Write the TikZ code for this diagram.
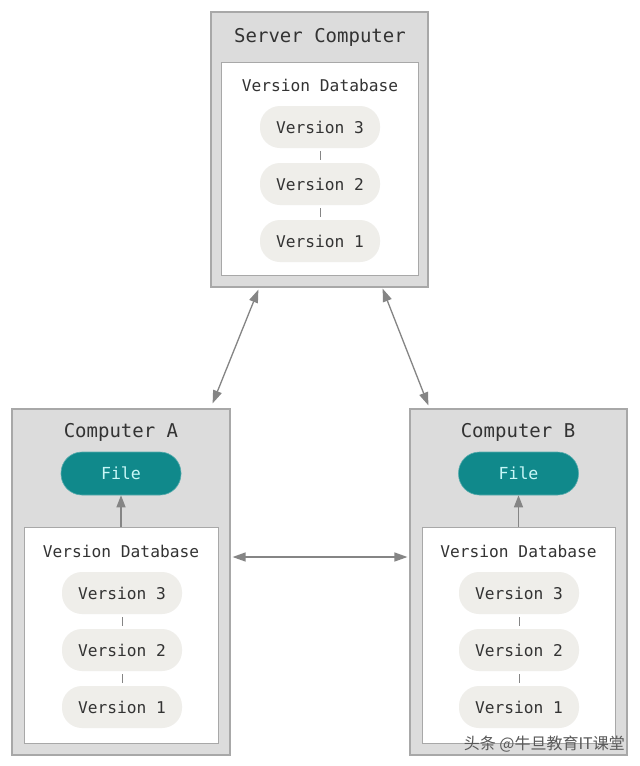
\documentclass[tikz,border=0pt]{standalone}
\usepackage{fontspec}
\setmonofont{DejaVu Sans Mono}
\newfontfamily\cjk{Noto Sans CJK SC}
\usetikzlibrary{arrows.meta}
\definecolor{boxgray}{HTML}{DCDCDC}
\definecolor{boxline}{HTML}{A8A8A8}
\definecolor{pillfill}{HTML}{EFEEEA}
\definecolor{txt}{HTML}{333333}
\definecolor{teal}{HTML}{10898B}
\definecolor{filetxt}{HTML}{C8F7F7}
\definecolor{arr}{HTML}{858585}
\tikzset{
  outerbox/.style={draw=boxline, line width=1.2pt, fill=boxgray, inner sep=0pt},
  dbbox/.style={draw=boxline, line width=1pt, fill=white, inner sep=0pt},
  titletxt/.style={font=\ttfamily\fontsize{19}{22}\selectfont, text=txt, inner sep=0pt},
  dbtxt/.style={font=\ttfamily\fontsize{16.2}{19}\selectfont, text=txt, inner sep=0pt},
  pill/.style={rounded corners=20pt, fill=pillfill, minimum width=120pt, minimum height=42pt, font=\ttfamily\fontsize{16.2}{19}\selectfont, text=txt, inner sep=0pt},
  filepill/.style={rounded corners=21pt, fill=teal, draw=teal!70!white, line width=0.6pt, minimum width=120pt, minimum height=43pt, font=\ttfamily\fontsize{16.6}{19}\selectfont, text=filetxt, inner sep=0pt},
  tick/.style={draw=arr, line width=0.9pt, shorten <=3pt, shorten >=3pt},
  dbl/.style={draw=arr, line width=1.3pt, {Triangle[length=13pt,width=9pt]}-{Triangle[length=13pt,width=9pt]}, fill=arr},
  sgl/.style={draw=arr, line width=1.3pt, -{Triangle[length=12pt,width=9pt]}, fill=arr},
}
\begin{document}
\begin{tikzpicture}[x=1pt,y=-1pt]
\useasboundingbox (0,0) rectangle (640,766);
\fill[white] (0,0) rectangle (640,766);

% Server
\node[outerbox, minimum width=217pt, minimum height=275pt] (srv) at (319.5,149.5) {};
\node[titletxt] (srvt) at (320,37) {Server Computer};
\node[dbbox, minimum width=197pt, minimum height=213pt] (sdb) at (319.5,168.5) {};
\node[dbtxt] (sdbt) at (320,85) {Version Database};
\node[pill] (s3) at (320,127) {Version 3};
\node[pill] (s2) at (320,184) {Version 2};
\node[pill] (s1) at (320,241) {Version 1};
\draw[tick] (s3.south) -- (s2.north);
\draw[tick] (s2.south) -- (s1.north);

% Computer A
\node[outerbox, minimum width=218pt, minimum height=346pt] (ca) at (121,582) {};
\node[titletxt] (cat) at (121,432) {Computer A};
\node[filepill] (fa) at (121,473.5) {File};
\node[dbbox, minimum width=194pt, minimum height=216pt] (adb) at (121,635) {};
\node[dbtxt] (adbt) at (121,551) {Version Database};
\node[pill] (a3) at (122,593) {Version 3};
\node[pill] (a2) at (122,650) {Version 2};
\node[pill] (a1) at (122,707) {Version 1};
\draw[tick] (a3.south) -- (a2.north);
\draw[tick] (a2.south) -- (a1.north);
\draw[sgl] (adb.north) -- (fa.south);

% Computer B
\node[outerbox, minimum width=217pt, minimum height=346pt] (cb) at (518.5,582) {};
\node[titletxt] (cbt) at (518,432) {Computer B};
\node[filepill] (fb) at (518.5,473.5) {File};
\node[dbbox, minimum width=193pt, minimum height=216pt] (bdb) at (518.5,635) {};
\node[dbtxt] (bdbt) at (518.5,551) {Version Database};
\node[pill] (b3) at (519,593) {Version 3};
\node[pill] (b2) at (519,650) {Version 2};
\node[pill] (b1) at (519,707) {Version 1};
\draw[tick] (b3.south) -- (b2.north);
\draw[tick] (b2.south) -- (b1.north);
\draw[sgl] (bdb.north) -- (fb.south);

% Connectors
\draw[dbl] ([xshift=48pt,yshift=-2pt]srv.south west) -- ([xshift=-18pt,yshift=5pt]ca.north east);
\draw[dbl] ([xshift=-46pt,yshift=-1pt]srv.south east) -- ([xshift=19pt,yshift=3pt]cb.north west);
\draw[dbl] ([xshift=2pt,yshift=25pt]ca.east) -- ([xshift=-2pt,yshift=25pt]cb.west);

% Watermark
\node[font=\cjk\fontsize{16}{18}\selectfont, text=black!65, inner sep=0pt, anchor=east] (wm) at (625,744) {头条 @牛旦教育IT课堂};
\end{tikzpicture}
\end{document}
